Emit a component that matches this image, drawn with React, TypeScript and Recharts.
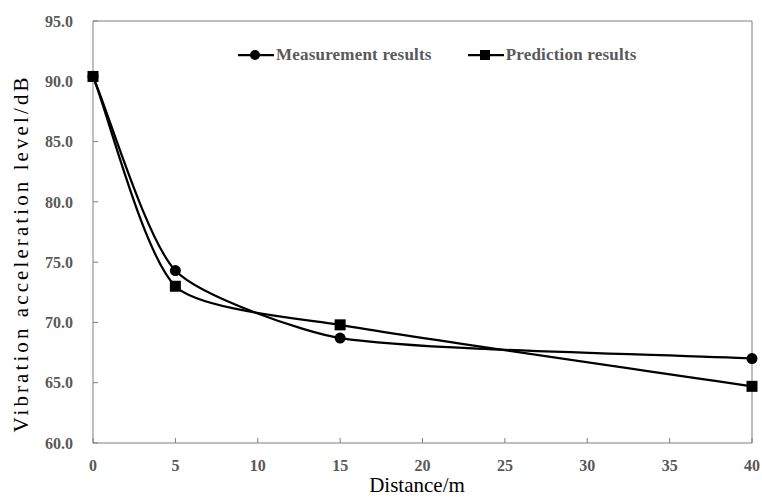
import { LineChart, Line, XAxis, YAxis, ReferenceLine, Legend, Label } from 'recharts';

const distances = [0, 5, 15, 40];
const measured = [90.4, 74.3, 68.7, 67.0];
const predicted = [90.4, 73.0, 69.8, 64.7];
const xTicks = [0, 5, 10, 15, 20, 25, 30, 35, 40];
const yTicks = [60, 65, 70, 75, 80, 85, 90, 95];
const seriesNames = ['Measurement results', 'Prediction results'];

const data = distances.map((d, i) => ({ d, measured: measured[i], predicted: predicted[i] }));

const SERIF = "'Liberation Serif', 'Times New Roman', serif";
const AXIS = '#7f7f7f';
const LABEL = '#595959';

// smoothed line, a bit like the spreadsheet "smoothed line" option
const TENSION = 0.2;
function smoothCurve(context: any) {
    let pts: number[][] = [];
    return {
        areaStart() {},
        areaEnd() {},
        lineStart() { pts = []; },
        point(x: number, y: number) { pts.push([+x, +y]); },
        lineEnd() {
            const n = pts.length;
            if (!n) return;
            context.moveTo(pts[0][0], pts[0][1]);
            const dir = (i: number) => {
                const a = pts[Math.max(i - 1, 0)];
                const b = pts[Math.min(i + 1, n - 1)];
                const dx = b[0] - a[0], dy = b[1] - a[1];
                const len = Math.hypot(dx, dy) || 1;
                return [dx / len, dy / len];
            };
            for (let i = 0; i < n - 1; i++) {
                const p1 = pts[i], p2 = pts[i + 1];
                const L = Math.hypot(p2[0] - p1[0], p2[1] - p1[1]) * TENSION;
                const t1 = dir(i), t2 = dir(i + 1);
                context.bezierCurveTo(
                    p1[0] + t1[0] * L, p1[1] + t1[1] * L,
                    p2[0] - t2[0] * L, p2[1] - t2[1] * L,
                    p2[0], p2[1]
                );
            }
        },
    };
}

const squareDot = (p: any) => (
    <rect key={`sq-${p.index}`} x={p.cx - 5.5} y={p.cy - 5.5} width={11} height={11} fill="#000" />
);

const renderLegend = () => (
    <div style={{ display: 'flex', alignItems: 'center', fontFamily: SERIF, fontWeight: 'bold', fontSize: 17, color: LABEL, whiteSpace: 'nowrap' }}>
        {seriesNames.map((name, i) => (
            <div key={name} style={{ display: 'flex', alignItems: 'center', marginLeft: i ? 36 : 0 }}>
                <svg width={36} height={14}>
                    <line x1={0} x2={36} y1={7} y2={7} stroke="#000" strokeWidth={2.25} />
                    {i === 0
                        ? <circle cx={17} cy={7} r={5} fill="#000" />
                        : <rect x={12} y={2} width={10} height={10} fill="#000" />}
                </svg>
                <span style={{ marginLeft: 2, letterSpacing: 0.2 }}>{name}</span>
            </div>
        ))}
    </div>
);

export default function App() {
    const tick = { fontFamily: SERIF, fontWeight: 'bold', fontSize: 16, fill: LABEL };
    return (
        <div style={{ position: 'absolute', left: 0, top: 0 }}>
            <LineChart width={762} height={497} data={data} margin={{ top: 21, right: 10, bottom: 0, left: 0 }}>
                <XAxis dataKey="d" type="number" domain={[0, 40]} ticks={xTicks} height={54}
                    stroke={AXIS} tick={tick} tickSize={-5} tickMargin={22}>
                    <Label content={() => (
                        <text x={417} y={492} textAnchor="middle" fontFamily={SERIF} fontSize={21} fill="#000">Distance/m</text>
                    )} />
                </XAxis>
                <YAxis type="number" domain={[60, 95]} ticks={yTicks} width={93}
                    stroke={AXIS} tick={tick} tickSize={-5} tickMargin={25}
                    tickFormatter={(v: number) => v.toFixed(1)}>
                    <Label content={() => (
                        <text x={28} y={255} transform="rotate(-90 28 255)" textAnchor="middle"
                            textLength={355} lengthAdjust="spacing"
                            fontFamily={SERIF} fontSize={21} fill="#000">Vibration acceleration level/dB</text>
                    )} />
                </YAxis>
                <ReferenceLine y={95} stroke={AXIS} />
                <ReferenceLine x={40} stroke={AXIS} />
                <Legend content={renderLegend} layout="horizontal" verticalAlign="middle" align="center"
                    wrapperStyle={{ position: 'absolute', left: 238, top: 45, width: 420 }} />
                <Line dataKey="measured" name={seriesNames[0]} type={smoothCurve as any} stroke="#000" strokeWidth={2.25}
                    dot={{ r: 5.5, fill: '#000', stroke: '#000', strokeWidth: 0 }} activeDot={false} isAnimationActive={false} />
                <Line dataKey="predicted" name={seriesNames[1]} type={smoothCurve as any} stroke="#000" strokeWidth={2.25}
                    dot={squareDot} activeDot={false} isAnimationActive={false} />
            </LineChart>
        </div>
    );
}
